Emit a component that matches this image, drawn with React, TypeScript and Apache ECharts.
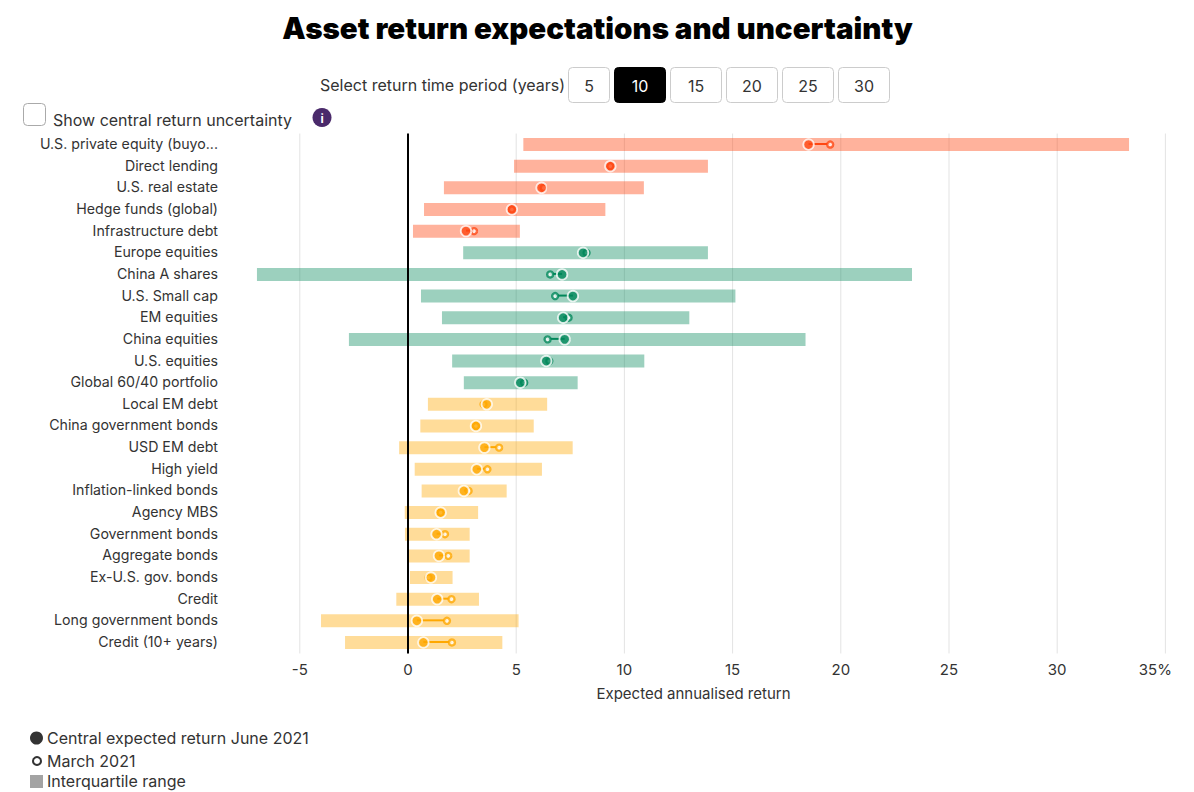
import React, { useEffect, useRef } from "react";
import * as echarts from "echarts";

const FONT = "Inter";
const TITLE_FONT = "Inter";

const categories = [
  "U.S. private equity (buyo...", "Direct lending", "U.S. real estate", "Hedge funds (global)", "Infrastructure debt",
  "Europe equities", "China A shares", "U.S. Small cap", "EM equities", "China equities", "U.S. equities", "Global 60/40 portfolio",
  "Local EM debt", "China government bonds", "USD EM debt", "High yield", "Inflation-linked bonds", "Agency MBS",
  "Government bonds", "Aggregate bonds", "Ex-U.S. gov. bonds", "Credit", "Long government bonds", "Credit (10+ years)",
];
const groups = ["alts","alts","alts","alts","alts","eq","eq","eq","eq","eq","eq","eq","fi","fi","fi","fi","fi","fi","fi","fi","fi","fi","fi","fi"];
const lows = [5.33,4.9,1.66,0.74,0.23,2.55,-6.98,0.6,1.57,-2.73,2.04,2.58,0.92,0.57,-0.41,0.31,0.63,-0.15,-0.14,-0.02,0.09,-0.54,-4.02,-2.91];
const highs = [33.32,13.86,10.9,9.12,5.17,13.86,23.29,15.13,13.0,18.37,10.92,7.84,6.43,5.81,7.61,6.19,4.56,3.24,2.85,2.85,2.06,3.28,5.11,4.36];
const june = [18.51,9.35,6.17,4.8,2.68,8.09,7.12,7.62,7.17,7.24,6.39,5.19,3.64,3.14,3.53,3.18,2.58,1.51,1.32,1.43,1.06,1.35,0.41,0.71];
const march = [19.51,9.35,6.27,4.8,3.05,8.25,6.57,6.8,7.42,6.45,6.53,5.37,3.49,3.14,4.21,3.67,2.8,1.51,1.71,1.86,0.95,2.01,1.8,2.03];
const periods = ["5","10","15","20","25","30"];
const gridTicks = [-5,5,10,15,20,25,30,35];

const solid: Record<string,string> = { alts: "#ff4713", eq: "#00875a", fi: "#ffa800" };
const pale: Record<string,string> = { alts: "rgba(255,71,19,0.42)", eq: "rgba(7,138,92,0.40)", fi: "rgba(255,168,0,0.40)" };

export default function App() {
  const ref = useRef<HTMLDivElement>(null);
  useEffect(() => {
    const chart = echarts.init(ref.current!, null, { renderer: "svg" });
    const rows = categories.map((_, i) => i);
    const buttons: any[] = [];
    let bx = 568;
    periods.forEach((p) => {
      const w = p === "5" ? 42 : 52;
      const on = p === "10";
      buttons.push({ type: "rect", shape: { x: bx + 0.5, y: 67.5, width: w - 1, height: 35, r: 4 }, style: { fill: on ? "#000" : "#fff", stroke: on ? "#000" : "#ccc", lineWidth: 1 } });
      buttons.push({ type: "text", x: bx + w / 2, y: 85.5, style: { text: p, fill: on ? "#fff" : "#333", font: `16px ${FONT}`, align: "center", verticalAlign: "middle" } });
      bx += w + 4;
    });
    chart.setOption({
      animation: false,
      title: { text: "Asset return expectations and uncertainty", left: 592.5, textAlign: "center", top: 8, textStyle: { fontFamily: TITLE_FONT, fontWeight: 900, fontSize: 29.5, color: "#000" } },
      grid: { left: 191.6, right: 28.6, top: 133.7, bottom: 138.7, containLabel: false },
      xAxis: {
        type: "value", min: -10, max: 35, interval: 5,
        axisLine: { show: false }, axisTick: { show: false },
        splitLine: { show: false },
        axisLabel: {
          fontFamily: FONT, fontSize: 15, color: "#333", margin: 9,
          alignMaxLabel: "center",
          formatter: (v: number) => (v === -10 ? "" : v === 35 ? "{r|35%}" : String(v)),
          rich: { r: { fontFamily: FONT, fontSize: 15, color: "#333", padding: [0, 20, 0, 0] } },
        },
        name: "Expected annualised return", nameLocation: "middle", nameGap: 33,
        nameTextStyle: { fontFamily: FONT, fontSize: 15, color: "#333", padding: [0, 0, 0, 30] },
      },
      yAxis: {
        type: "category", data: categories, inverse: true,
        axisLine: { show: false }, axisTick: { show: false },
        axisLabel: { fontFamily: FONT, fontSize: 14.2, color: "#333", margin: -26.4, align: "right", verticalAlign: "bottom", lineHeight: 2 },
      },
      series: [
        {
          type: "custom", silent: true, z: 1,
          data: gridTicks.map(t => [t]),
          encode: { x: 0 },
          renderItem: (_: any, api: any) => {
            const p = api.coord([api.value(0), 0]);
            const s = api.coord([api.value(0), categories.length - 1]);
            return { type: "line", shape: { x1: p[0], y1: p[1] - 11, x2: s[0], y2: s[1] + 11 }, style: { stroke: "#e3e3e3", lineWidth: 1 } };
          },
        },
        {
          type: "custom", silent: true, z: 2,
          data: rows.map(i => [lows[i], highs[i], i]),
          encode: { x: [0, 1], y: 2 },
          renderItem: (params: any, api: any) => {
            const i = api.value(2);
            const a = api.coord([api.value(0), i]);
            const b = api.coord([api.value(1), i]);
            return { type: "rect", shape: { x: a[0], y: a[1] - 6.5, width: b[0] - a[0], height: 13 }, style: { fill: pale[groups[i]] } };
          },
        },
        {
          type: "custom", silent: true, z: 3,
          data: [[0]], encode: { x: 0 },
          renderItem: (_: any, api: any) => {
            const p = api.coord([0, 0]);
            const s = api.coord([0, categories.length - 1]);
            return { type: "line", shape: { x1: p[0], y1: p[1] - 11, x2: s[0], y2: s[1] + 11 }, style: { stroke: "#000", lineWidth: 2 } };
          },
        },
        {
          type: "custom", silent: true, z: 4,
          data: rows.map(i => [june[i], march[i], i]),
          encode: { x: [0, 1], y: 2 },
          renderItem: (_: any, api: any) => {
            const i = api.value(2);
            const a = api.coord([api.value(0), i]);
            const b = api.coord([api.value(1), i]);
            return { type: "line", shape: { x1: a[0], y1: a[1] - 0.5, x2: b[0], y2: b[1] - 0.5 }, style: { stroke: solid[groups[i]], lineWidth: 2 } };
          },
        },
        {
          type: "scatter", z: 5, symbol: "circle", symbolSize: 6, silent: true,
          data: rows.map(i => ({ value: [march[i], i], itemStyle: { color: "#fff", borderColor: solid[groups[i]], borderWidth: 2.4 } })),
        },
        {
          type: "scatter", z: 6, symbol: "circle", symbolSize: 10.5, silent: true,
          data: rows.map(i => ({ value: [june[i], i], itemStyle: { color: solid[groups[i]], borderColor: "#fff", borderWidth: 1.8 } })),
        },
      ],
      graphic: [
        { type: "text", x: 320, y: 85, style: { text: "Select return time period (years)", fill: "#333", font: `16px ${FONT}`, verticalAlign: "middle" } },
        ...buttons,
        { type: "rect", shape: { x: 23.5, y: 103.5, width: 22, height: 22, r: 4 }, style: { fill: "#fff", stroke: "#aaa", lineWidth: 1 } },
        { type: "text", x: 53, y: 120, style: { text: "Show central return uncertainty", fill: "#333", font: `16px ${FONT}`, verticalAlign: "middle" } },
        { type: "circle", shape: { cx: 322, cy: 117.5, r: 9.5 }, style: { fill: "#4a2a6b" } },
        { type: "text", x: 322, y: 118, style: { text: "i", fill: "#fff", font: `bold 12px ${FONT}`, align: "center", verticalAlign: "middle" } },
        { type: "circle", shape: { cx: 36.5, cy: 738, r: 6.5 }, style: { fill: "#333" } },
        { type: "text", x: 47, y: 738, style: { text: "Central expected return June 2021", fill: "#333", font: `16px ${FONT}`, verticalAlign: "middle" } },
        { type: "circle", shape: { cx: 37, cy: 761, r: 4 }, style: { fill: "#fff", stroke: "#333", lineWidth: 2 } },
        { type: "text", x: 47, y: 761, style: { text: "March 2021", fill: "#333", font: `16px ${FONT}`, verticalAlign: "middle" } },
        { type: "rect", shape: { x: 30, y: 775, width: 13, height: 13 }, style: { fill: "#a3a3a3" } },
        { type: "text", x: 47, y: 781, style: { text: "Interquartile range", fill: "#333", font: `16px ${FONT}`, verticalAlign: "middle" } },
      ],
    });
    return () => chart.dispose();
  }, []);
  return <div ref={ref} style={{ position: "absolute", left: 0, top: 0, width: 1194, height: 792 }} />;
}
